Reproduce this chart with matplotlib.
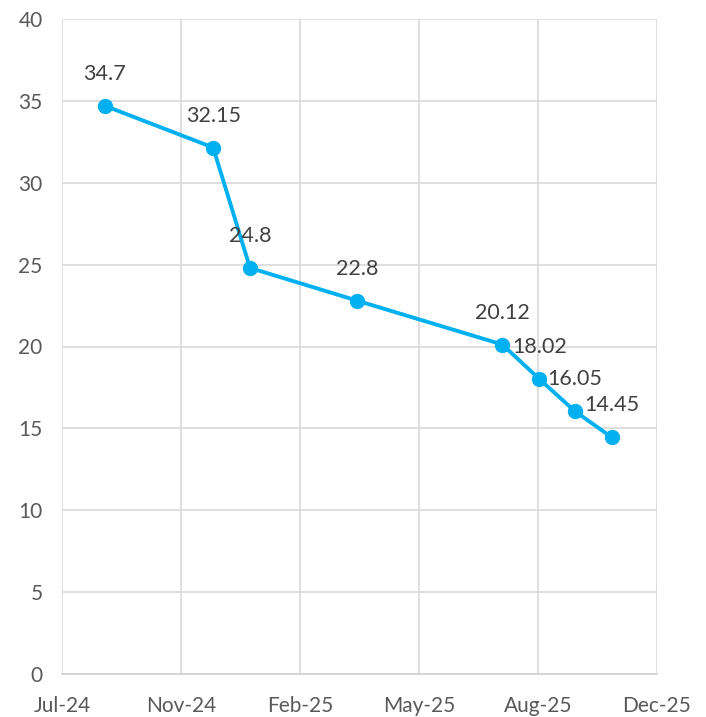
import matplotlib
matplotlib.use("Agg")
import matplotlib.pyplot as plt
import datetime as dt

dates = ["2024-09-01", "2024-12-01", "2025-01-01", "2025-04-01",
         "2025-08-01", "2025-09-01", "2025-10-01", "2025-11-01"]
values = [34.7, 32.15, 24.8, 22.8, 20.12, 18.02, 16.05, 14.45]
tick_dates = ["2024-07-27", "2024-11-04", "2025-02-12", "2025-05-23",
              "2025-08-31", "2025-12-09"]
tick_labels = ["Jul-24", "Nov-24", "Feb-25", "May-25", "Aug-25", "Dec-25"]
y_ticks = [0, 5, 10, 15, 20, 25, 30, 35, 40]

plt.rcParams['font.family'] = ['Lato', 'DejaVu Sans']

x = [dt.datetime.strptime(d, "%Y-%m-%d") for d in dates]
xt = [dt.datetime.strptime(d, "%Y-%m-%d") for d in tick_dates]

fig = plt.figure(figsize=(7.06, 7.17), dpi=100)
ax = fig.add_axes([62/706, 1-674/717, (657-62)/706, (674-19)/717])

color = "#00B0F0"
ax.plot(x, values, color=color, lw=2.8, marker="o", markersize=10, zorder=3)

for xi, v in zip(x, values):
    ax.annotate(f"{v:g}", (xi, v), xytext=(0, 23), textcoords="offset points",
                ha="center", va="center", fontsize=15.5, color="#404040", zorder=4)

ax.set_xlim(xt[0], xt[-1])
ax.set_ylim(0, 40)
ax.set_xticks(xt)
ax.set_xticklabels(tick_labels)
ax.set_yticks(y_ticks)

ax.grid(True, color="#D9D9D9", lw=1.2)
ax.set_axisbelow(True)
for s in ["top", "right", "left"]:
    ax.spines[s].set_visible(False)
ax.spines["bottom"].set_color("#D0D0D0")
ax.spines["bottom"].set_linewidth(1.2)
ax.tick_params(axis="both", length=0, labelsize=15, colors="#595959")
ax.tick_params(axis="x", pad=16)
ax.tick_params(axis="y", pad=14)

fig.savefig("out.png", dpi=100)
